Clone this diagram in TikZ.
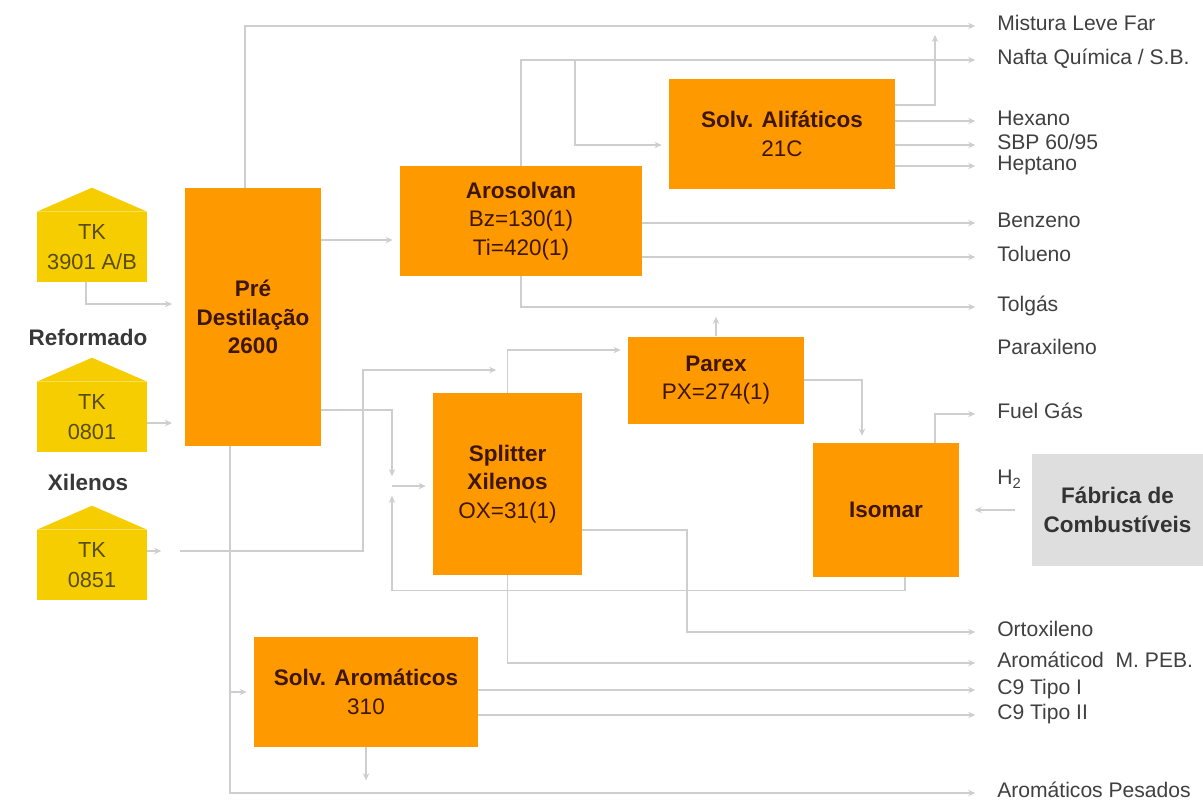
\documentclass[tikz,border=0pt]{standalone}
\usepackage{fontspec}
\setmainfont{Liberation Sans}
\usetikzlibrary{arrows.meta,calc,positioning}
\definecolor{unitorange}{RGB}{255,153,0}
\definecolor{unittext}{RGB}{62,22,0}
\definecolor{tankyellow}{RGB}{246,206,0}
\definecolor{tanktext}{RGB}{88,76,18}
\definecolor{linegray}{RGB}{206,206,206}
\definecolor{labelgray}{RGB}{64,64,64}
\definecolor{fabgray}{RGB}{222,222,222}

\begin{document}
\begin{tikzpicture}[x=0.025cm,y=-0.025cm,>={Stealth[length=5pt,width=4.5pt]},
  wh/.style 2 args={minimum width=#1*0.025cm,minimum height=#2*0.025cm},
  unit/.style={fill=unitorange,text=unittext,inner sep=0pt,align=center,font=\fontsize{16}{20.5}\selectfont},
  tank/.style={fill=tankyellow,text=tanktext,inner sep=0pt,align=center,wh={110}{70},font=\fontsize{15.5}{21}\selectfont},
  feedlbl/.style={text=black!78,font=\fontsize{16}{19}\selectfont\bfseries},
  prodlbl/.style={anchor=west,inner sep=0pt,text=labelgray,text height=11pt,text depth=4pt,font=\fontsize{15}{18}\selectfont},
  flow/.style={draw=linegray,line width=0.9pt},
  feed/.style={flow,->,shorten >=5pt},
  prod/.style={flow,->,shorten >=15.5pt}]
  \fill[white] (0,0) rectangle (1203,803);
  \useasboundingbox (0,0) rectangle (1203,803);

  % tanks
  \foreach \n/\y/\t in {tk1/247/{TK\\3901 A/B},tk2/417/{TK\\0801},tk3/565/{TK\\0851}} {
    \node[tank] (\n) at (92,\y) {\t};
    \fill[tankyellow] (\n.north west) -- ($(\n.north)+(0,-24)$) -- (\n.north east) -- cycle;
  }
  \node[feedlbl] (refo) at (88,337) {Reformado};
  \node[feedlbl] (xile) at (88,482) {Xilenos};

  % units
  \node[unit,wh={136}{258}] (pre) at (253,317) {\textbf{Pré}\\\textbf{Destilação}\\\textbf{2600}};
  \node[unit,wh={242}{110}] (aro) at (521,221) {\textbf{Arosolvan}\\Bz=130(1)\\Ti=420(1)};
  \node[unit,wh={226}{110}] (alif) at (782,134) {\textbf{Solv. Alifáticos}\\21C};
  \node[unit,wh={176}{87}] (parex) at (716,380) {\textbf{Parex}\\PX=274(1)};
  \node[unit,wh={149}{182}] (split) at (507.5,484) {\textbf{Splitter}\\\textbf{Xilenos}\\OX=31(1)};
  \node[unit,wh={146}{134}] (isomar) at (886,510) {\textbf{Isomar}};
  \node[unit,wh={224}{110}] (solvaro) at (366,692) {\textbf{Solv. Aromáticos}\\310};
  \node[unit,fill=fabgray,text=black!80,wh={171}{112}] (fab) at (1117.5,510) {\textbf{Fábrica de}\\\textbf{Combustíveis}};

  % products
  \foreach \n/\y/\t in {mist/26/Mistura Leve Far,naf/60/{Nafta Química / S.B.},hex/121/Hexano,
      sbp/145/{SBP 60/95},hep/166/Heptano,benz/223/Benzeno,tol/257/Tolueno,tolg/307/Tolgás,
      parax/350/Paraxileno,fuel/414/Fuel Gás,orto/632/Ortoxileno,arom/663/{Aromáticod~~M. PEB.},
      c9a/690/C9 Tipo I,c9b/715/C9 Tipo II,pesa/793/Aromáticos Pesados}
    \node[prodlbl] (\n) at (997,\y) {\t};
  \node[prodlbl] (h2) at (997,480) {H\textsubscript{2}};

  \coordinate (jM) at (935,35);
  \coordinate (jA) at (575,60);
  \coordinate (jX) at (363,370);
  \coordinate (jS) at (392,486);
  \coordinate (jB) at ($(pre.south)+(-23,0)$);

  % feeds
  \draw[feed,shorten >=9pt] ($(tk1.south)+(-6,0)$) |- ($(pre.west)+(0,-13)$);
  \draw[feed,shorten >=9pt] ($(tk2.east)+(0,6)$) -- ($(tk2.east -| pre.west)+(0,6)$);
  \draw[feed] ($(tk3.east)+(0,-14)$) -- ++(21,0);
  \draw[flow,->,shorten >=8pt] ($(tk3.east)+(33,-14)$) -| (jX) -- (jX -| split.north);
  \draw[feed] ($(pre.east |- aro.west)+(0,19)$) -- ($(aro.west)+(0,19)$);
  \draw[flow,->,shorten >=7pt] ($(pre.east)+(0,93)$) -| (jS);
  \draw[feed] (jS) -- (jS -| split.west);
  \draw[flow,->,shorten >=7pt] ($(isomar.south)+(19,0)$) -- ++(0,13) -| (jS);
  \draw[feed] (split.north) |- ($(parex.west)+(0,-30)$);
  \draw[feed] (parex.east) -| ($(isomar.north)+(-24,0)$);
  \draw[flow,->,shorten >=7pt] (parex.north) -- (parex.north |- tolg.west);
  \draw[feed] (jA) |- ($(alif.west)+(0,11)$);
  \draw[flow,->,shorten <=12pt,shorten >=11pt] (fab.west) -- (fab.west -| isomar.east);
  \draw[feed] (jB |- solvaro.west) -- (solvaro.west);
  \draw[flow,->,shorten >=9pt] (solvaro.south) -- (solvaro.south |- pesa.west);
  \draw[flow,->] ($(alif.east)+(0,-29)$) -| (jM);

  % products
  \draw[prod] ($(pre.north)+(-8,0)$) |- (mist.west);
  \draw[prod] (aro.north) |- (naf.west);
  \foreach \n in {hex,sbp,hep} \draw[prod] (alif.east |- \n.west) -- (\n.west);
  \foreach \n in {benz,tol} \draw[prod] (aro.east |- \n.west) -- (\n.west);
  \draw[prod] (aro.south) |- (tolg.west);
  \draw[prod] ($(isomar.north)+(49,0)$) |- (fuel.west);
  \draw[prod] ($(split.east)+(0,46)$) -| ($(orto.west)+(-310,0)$) -- (orto.west);
  \draw[prod] (split.south) |- (arom.west);
  \foreach \n in {c9a,c9b} \draw[prod] (solvaro.east |- \n.west) -- (\n.west);
  \draw[prod] (jB) |- (pesa.west);
\end{tikzpicture}
\end{document}
